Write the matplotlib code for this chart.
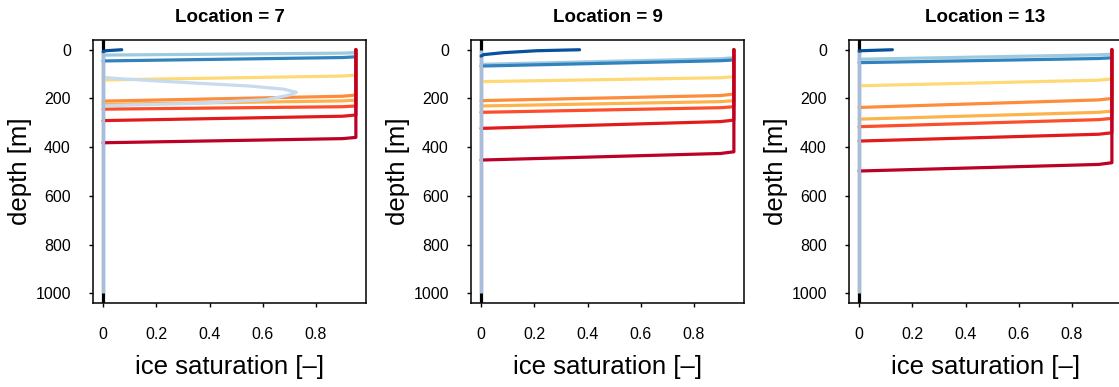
import matplotlib
matplotlib.use("Agg")
import matplotlib.pyplot as plt

plt.rcParams['font.family'] = ['Liberation Sans', 'DejaVu Sans']

# ---------------- data ----------------
locations = [7, 9, 13]
sat_ticks = [0, 0.2, 0.4, 0.6, 0.8]
sat_tick_labels = ['0', '0.2', '0.4', '0.6', '0.8']
depth_ticks = [0, 200, 400, 600, 800, 1000]
depth_tick_labels = ['0', '200', '400', '600', '800', '1000']

# saturation at profile vertices: surface, freezing front edge, knee, base of front
profile_sat = [0.95, 0.95, 0.90, 0.0]

# freezing profiles (shallow -> deep)
freeze_colors = ['#fed976', '#fd8d3c', '#feb24c', '#fc4e2a', '#e31a1c', '#bd0026']
freeze_edge = {7: [104, 186, 207, 231, 268, 360],
               9: [111, 182, 209, 234, 289, 419],
               13: [120, 200, 252, 282, 341, 464]}
freeze_knee = {7: [108, 191, 210, 234, 273, 365],
               9: [115, 188, 213, 238, 295, 426],
               13: [125, 206, 257, 287, 347, 471]}
freeze_base = {7: [124, 211, 224, 244, 291, 382],
               9: [131, 209, 231, 257, 323, 453],
               13: [148, 237, 285, 316, 375, 498]}

# shallow (blue) profiles
thaw_colors = ['#9ecae1', '#3182bd']
thaw_edge = {7: [12, 29], 9: [33, 42], 13: [18, 33]}
thaw_knee = {7: [14, 32], 9: [37, 45], 13: [21, 36]}
thaw_base = {7: [22, 46], 9: [60, 67], 13: [39, 53]}

# near-surface profile (dark blue)
surf_sat = {7: [0.0, 0.01, 0.07],
            9: [0.0, 0.01, 0.084, 0.21, 0.37],
            13: [0.0, 0.01, 0.125]}
surf_depth = {7: [8, 4, 0],
              9: [26, 20, 12, 4, 0],
              13: [6, 4, 0]}

# lens profile (location 7 only)
lens_sat = [0.0, 0.05, 0.20, 0.364, 0.55, 0.68, 0.726, 0.70, 0.614, 0.45, 0.364, 0.10, 0.0]
lens_depth = [113, 118, 128, 138, 149, 162, 175, 186, 205, 214, 220, 227, 231]

# unfrozen background profile
zero_sat = [0.0, 0.0]
zero_depth = [0, 1000]

# ---------------- figure ----------------
fig = plt.figure(figsize=(11.19, 3.87), dpi=100)
W, H = 1119, 387
ax_w, ax_h = 273 / W, 263 / H
bottom = (H - 303) / H
lefts = [93 / W, 471 / W, 849 / W]

lw = 2.3
for loc, left in zip(locations, lefts):
    ax = fig.add_axes([left, bottom, ax_w, ax_h])
    ax.axvline(0, color='black', lw=lw, zorder=1)

    for c, e, k, b in zip(thaw_colors, thaw_edge[loc], thaw_knee[loc], thaw_base[loc]):
        ax.plot(profile_sat, [0, e, k, b], color=c, lw=lw, zorder=2,
                solid_capstyle='round', solid_joinstyle='round')

    for c, e, k, b in zip(freeze_colors, freeze_edge[loc], freeze_knee[loc], freeze_base[loc]):
        ax.plot(profile_sat, [0, e, k, b], color=c, lw=lw, zorder=3,
                solid_capstyle='round', solid_joinstyle='round')

    if loc == 7:
        ax.plot(lens_sat, lens_depth, color='#c6dbef', lw=lw, zorder=4,
                solid_capstyle='round', solid_joinstyle='round')

    ax.plot(zero_sat, zero_depth, color='#a6bddb', lw=lw, zorder=5,
            solid_capstyle='butt')
    ax.plot(surf_sat[loc], surf_depth[loc], color='#08519c', lw=lw, zorder=6,
            solid_capstyle='round', solid_joinstyle='round')

    ax.set_xlim(-0.038, 0.988)
    ax.set_ylim(1040, -40)
    ax.set_xticks(sat_ticks)
    ax.set_xticklabels(sat_tick_labels)
    ax.set_yticks(depth_ticks)
    ax.set_yticklabels(depth_tick_labels)
    ax.tick_params(axis='both', direction='out', length=3, width=1,
                   labelsize=11.5, color='black')
    ax.tick_params(axis='x', pad=14)
    ax.tick_params(axis='y', pad=13)
    for sp in ax.spines.values():
        sp.set_linewidth(1.1)

    ax.text(0.5, 1.087, f'Location = {loc}', transform=ax.transAxes,
            ha='center', va='center', fontsize=13.5, fontweight='bold')
    ax.text(0.5, -0.243, 'ice saturation [\u2013]', transform=ax.transAxes,
            ha='center', va='center', fontsize=18.5)
    ax.text(-0.267, 0.5, 'depth [m]', transform=ax.transAxes, rotation=90,
            ha='center', va='center', fontsize=18.5)

fig.savefig('out.png', dpi=100)
